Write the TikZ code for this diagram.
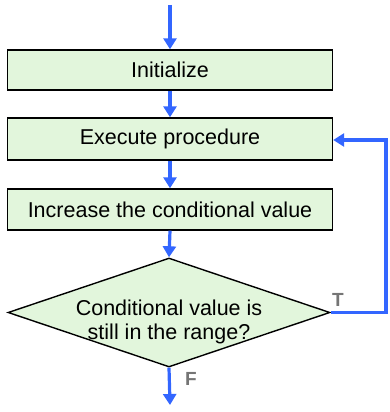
\documentclass[tikz,border=0pt]{standalone}
\usepackage{fontspec}
\setmainfont{Liberation Sans}
\usetikzlibrary{arrows.meta,shapes.geometric}
\definecolor{boxfill}{HTML}{E2F6DC}
\definecolor{flowblue}{HTML}{3366FF}
\definecolor{lblgray}{HTML}{757575}
\tikzset{
  stepbox/.style={draw=black, line width=1.4pt, fill=boxfill, minimum width=325pt, inner sep=0pt, font=\fontsize{21.5}{25}\selectfont},
  decide/.style={draw=black, line width=1.4pt, fill=boxfill, diamond, minimum width=322pt, minimum height=109pt, inner sep=0pt, font=\fontsize{21.5}{24}\selectfont},
  flow/.style={flowblue, line width=3.2pt, -{Triangle[length=11pt,width=13pt]}},
  tf/.style={text=lblgray, font=\fontsize{19}{22}\selectfont\bfseries}
}
\begin{document}
\begin{tikzpicture}[x=1pt,y=-1pt]
\useasboundingbox (0,0) rectangle (389,412);
\coordinate (start) at (170,5);
\node[stepbox, minimum height=40pt] (init) at (170,70) {Initialize};
\node[stepbox, minimum height=42pt] (exec) at (170,139) {Execute procedure};
\node[stepbox, minimum height=41pt] (inc) at (170,209.5) {Increase the conditional value};
\node[decide] (cond) at (169,312.5) {\smash{\makebox[0pt]{\raisebox{-15pt}{\begin{tabular}{@{}c@{}}Conditional value is\\still in the range?\end{tabular}}}}};
\coordinate (end) at (170,405);
\coordinate (loopR) at (386,312.5);
\coordinate (loopT) at (386,140);
\draw[flow] (start) -- (init.north);
\draw[flow] (init.south) -- (exec.north);
\draw[flow] (exec.south) -- (inc.north);
\draw[flow] (inc.south) -- (cond.north);
\draw[flow] (cond.south) -- (end);
\draw[flow] (cond.east) -- (loopR) -- (loopT) -- (exec.east |- loopT);
\node[tf] (tlab) at (338,300) {T};
\node[tf] (flab) at (191,379) {F};
\end{tikzpicture}
\end{document}
